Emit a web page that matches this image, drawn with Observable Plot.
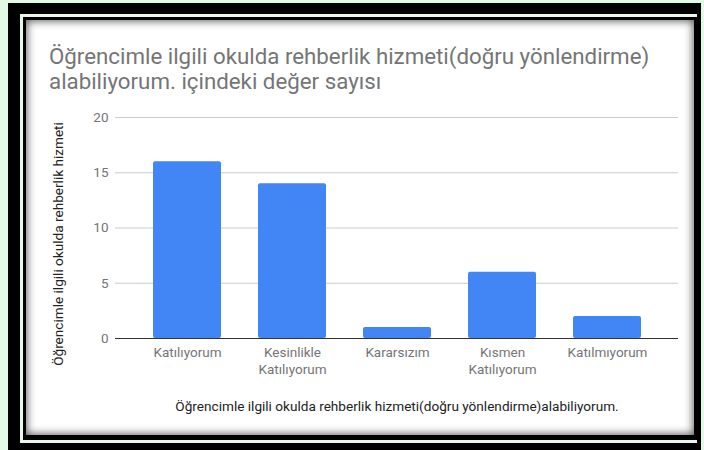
<!DOCTYPE html>
<html>
<head>
<meta charset="utf-8">
<script src="https://cdn.jsdelivr.net/npm/d3@7"></script>
<script src="https://cdn.jsdelivr.net/npm/@observablehq/plot@0.6"></script>
<style>
  html, body { margin: 0; padding: 0; }
  body { width: 704px; height: 450px; position: relative; overflow: hidden; background: #e2f9e6; font-family: Roboto, "Noto Sans", sans-serif; }
  .box { position: absolute; }
  #b1 { left: 8px; top: 3px; width: 693px; height: 447px; background: #000; }
  #b2 { left: 20px; top: 14px; width: 677px; height: 429px; background: #e9f6ea; }
  #b3 { left: 23px; top: 17px; width: 674px; height: 423px; background: #000; }
  #card { left: 26px; top: 20px; width: 668px; height: 415px; background: #fff; box-shadow: inset 0 0 9px 1px rgba(0,0,0,0.65); }
  #title { position: absolute; left: 49px; top: 43.5px; font-size: 22.3px; line-height: 25.5px; color: #757575; white-space: nowrap; }
  #chart { position: absolute; left: 0; top: 0; }
</style>
</head>
<body>
<div class="box" id="b1"></div>
<div class="box" id="b2"></div>
<div class="box" id="b3"></div>
<div class="box" id="card"></div>
<div id="chart"></div>
<div id="title">Öğrencimle ilgili okulda rehberlik hizmeti(doğru yönlendirme)<br>alabiliyorum. içindeki değer sayısı</div>
<script>
const categories = ["Katılıyorum", "Kesinlikle Katılıyorum", "Kararsızım", "Kısmen Katılıyorum", "Katılmıyorum"];
const counts = [16, 14, 1, 6, 2];
const tickLabels = ["Katılıyorum", "Kesinlikle\nKatılıyorum", "Kararsızım", "Kısmen\nKatılıyorum", "Katılmıyorum"];
const yTicks = [0, 5, 10, 15, 20];
const yTitle = "Öğrencimle ilgili okulda rehberlik hizmeti";
const xTitle = "Öğrencimle ilgili okulda rehberlik hizmeti(doğru yönlendirme)alabiliyorum.";

const data = categories.map((c, i) => ({cat: c, n: counts[i]}));

const chart = Plot.plot({
  width: 704,
  height: 450,
  marginLeft: 115,
  marginRight: 26,
  marginTop: 117,
  marginBottom: 112,
  style: {background: "transparent", fontFamily: "Roboto, 'Noto Sans', sans-serif", fontSize: "13.5px", overflow: "visible"},
  x: {type: "band", domain: categories, padding: 0.354, axis: null},
  y: {domain: [0, 20], axis: null},
  marks: [
    Plot.gridY(yTicks, {stroke: "#cccccc", strokeOpacity: 1}),
    Plot.barY(data, {x: "cat", y: "n", fill: "#4285F4", rx: 2}),
    Plot.ruleY([0], {stroke: "#333333"}),
    Plot.axisY(yTicks, {tickSize: 0, tickPadding: 7, color: "#757575", label: null, fontSize: 13.5}),
    Plot.axisX({tickSize: 0, tickPadding: 7, color: "#757575", label: null, lineHeight: 1.24, fontSize: 13.5,
      tickFormat: d => tickLabels[categories.indexOf(d)]}),
    Plot.text([xTitle], {frameAnchor: "bottom", lineAnchor: "bottom", dy: 72, fill: "#222222", fontSize: 13.6}),
    Plot.text([yTitle], {frameAnchor: "left", textAnchor: "middle", rotate: -90, dx: -57, dy: 16, fill: "#222222", fontSize: 13.6})
  ]
});
document.getElementById("chart").appendChild(chart);
</script>
</body>
</html>
